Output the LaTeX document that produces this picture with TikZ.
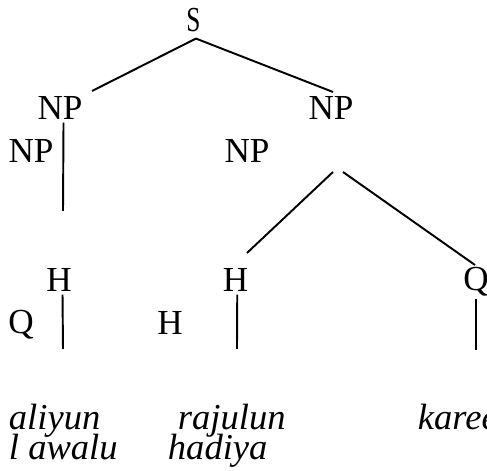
\documentclass[tikz,border=0pt]{standalone}
\usepackage{fontspec}
\setmainfont{Liberation Serif}
\usepackage{tikz}

\begin{document}
\begin{tikzpicture}[
    line width=0.55pt,
    cat/.style={anchor=base,inner sep=0.5pt,font=\fontsize{10}{12}\selectfont},
    word/.style={anchor=base west,inner sep=0pt,font=\fontsize{10.4}{12}\selectfont\itshape}
  ]
    \useasboundingbox (0,0) rectangle (4.87,4.71);
    \clip (0,0) rectangle (4.87,4.71);

    % Root (narrow S)
    \node[cat,inner sep=1.5pt,xscale=0.72,transform shape] (s) at (1.935,4.39) {S};

    % Noun phrases
    \node[cat] (npl) at (0.60,3.51) {NP};
    \node[cat] (npr) at (3.31,3.51) {NP};
    \node[cat] (npa) at (0.31,3.08) {NP};
    \node[cat] (npb) at (2.47,3.08) {NP};

    % Heads and quantifiers
    \node[cat] (hl) at (0.59,1.79) {H};
    \node[cat] (ql) at (0.21,1.37) {Q};
    \node[cat] (hb) at (1.70,1.36) {H};
    \node[cat] (hm) at (2.355,1.79) {H};
    \node[cat] (qr) at (4.76,1.80) {Q};

    % Words
    \node[word] (w1) at (0.08,0.41) {aliyun};
    \node[word] (w2) at (1.77,0.41) {rajulun};
    \node[word] (w3) at (4.17,0.41) {kareemun};
    \node[word] (w4) at (0.08,0.11) {l awalu};
    \node[word] (w5) at (1.67,0.11) {hadiya};

    % Free ends of the branches
    \coordinate (npltop) at (0.92,3.80);
    \coordinate (nprtop) at (3.33,3.79);
    \coordinate (nplfoot) at (0.63,2.60);
    \coordinate (splitl) at (3.33,2.99);
    \coordinate (splitr) at (3.43,2.99);
    \coordinate (hmtop) at (2.47,2.18);
    \coordinate (qrtop) at (4.75,2.06);
    \coordinate (hlfoot) at (0.63,1.22);
    \coordinate (hmfoot) at (2.37,1.22);
    \coordinate (qrfoot) at (4.76,1.21);

    % Branches
    \draw ([xshift=0.7pt]s.south) -- (npltop);
    \draw ([xshift=0.7pt]s.south) -- (nprtop);
    \draw ([xshift=1pt]npl.south) -- (nplfoot);
    \draw (splitl) -- (hmtop);
    \draw (splitr) -- (qrtop);
    \draw ([xshift=1pt]hl.south) -- (hlfoot);
    \draw ([xshift=0.5pt]hm.south) -- (hmfoot);
    \draw (qr.south) -- (qrfoot);
\end{tikzpicture}
\end{document}
